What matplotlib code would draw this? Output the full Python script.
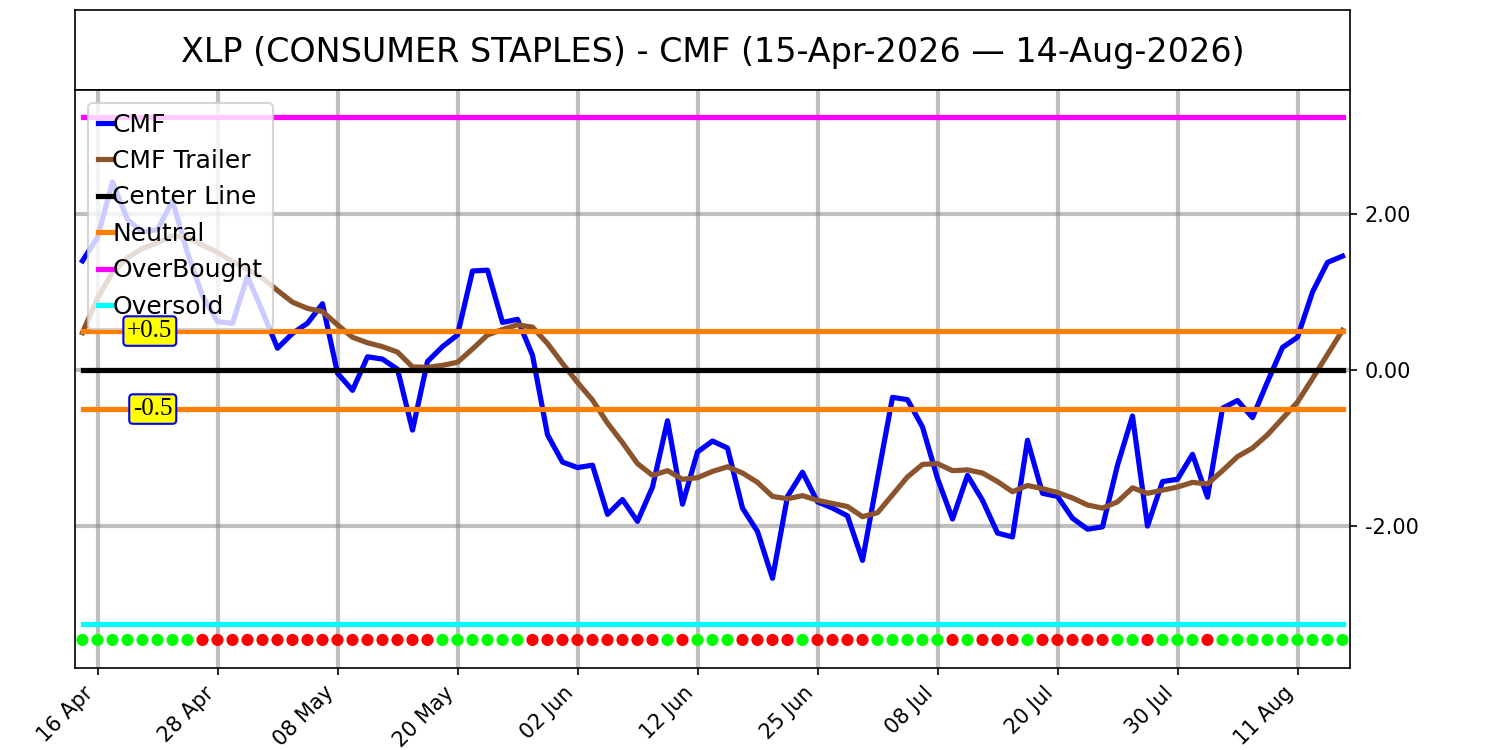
import numpy as np
import matplotlib
matplotlib.use("Agg")
import matplotlib.pyplot as plt

title = "XLP (CONSUMER STAPLES) - CMF (15-Apr-2026 \u2014 14-Aug-2026)"

cmf = [1.40, 1.70, 2.41, 1.93, 1.77, 1.80, 2.17, 1.50, 0.95, 0.62,
       0.60, 1.20, 0.75, 0.28, 0.47, 0.60, 0.85, -0.04, -0.26, 0.17,
       0.14, 0.01, -0.77, 0.11, 0.30, 0.45, 1.27, 1.28, 0.61, 0.65,
       0.19, -0.83, -1.18, -1.25, -1.22, -1.85, -1.66, -1.94, -1.50, -0.65,
       -1.72, -1.05, -0.91, -1.00, -1.77, -2.07, -2.67, -1.62, -1.31, -1.69,
       -1.77, -1.87, -2.44, -1.39, -0.35, -0.38, -0.73, -1.39, -1.91, -1.35,
       -1.67, -2.09, -2.14, -0.90, -1.58, -1.62, -1.90, -2.04, -2.01, -1.22,
       -0.59, -2.00, -1.43, -1.40, -1.08, -1.63, -0.49, -0.39, -0.61, -0.15,
       0.29, 0.42, 1.00, 1.38, 1.46]

trailer = [0.48, 0.92, 1.25, 1.44, 1.56, 1.63, 1.72, 1.70, 1.60, 1.51,
           1.39, 1.29, 1.18, 1.02, 0.87, 0.79, 0.75, 0.58, 0.42, 0.35,
           0.30, 0.23, 0.04, 0.035, 0.06, 0.10, 0.27, 0.45, 0.52, 0.58,
           0.55, 0.34, 0.085, -0.16, -0.385, -0.68, -0.93, -1.20, -1.35, -1.29,
           -1.40, -1.38, -1.30, -1.24, -1.32, -1.44, -1.62, -1.65, -1.61, -1.67,
           -1.71, -1.75, -1.88, -1.83, -1.60, -1.37, -1.21, -1.20, -1.29, -1.28,
           -1.32, -1.43, -1.56, -1.48, -1.52, -1.57, -1.64, -1.73, -1.77, -1.69,
           -1.51, -1.58, -1.54, -1.50, -1.44, -1.46, -1.29, -1.11, -1.00, -0.83,
           -0.62, -0.41, -0.11, 0.20, 0.51]

# G = cmf above trailer signal, R = below
signal = ("GGGGGGGG" "RRRRRRRRRRRRRRRR" "GGGGGG" "RRRRRRRRR" "G" "R" "GGG"
          "RRRR" "G" "RRRR" "GGGGG" "R" "G" "RRR" "G" "RRRRR" "GG" "R" "GGG"
          "R" "GGGGGGGGG")

tick_idx = [1, 9, 17, 25, 33, 41, 49, 57, 65, 73, 81]
tick_labels = ["16 Apr", "28 Apr", "08 May", "20 May", "02 Jun", "12 Jun",
               "25 Jun", "08 Jul", "20 Jul", "30 Jul", "11 Aug"]

overbought = 3.25
oversold = -3.25
neutral = 0.5
dot_level = -3.46

x = np.arange(len(cmf))
flat = np.ones(len(cmf))

fig = plt.figure(figsize=(10, 5), dpi=150)

# title box
tax = fig.add_axes([0.05, 0.88, 0.85, 0.1067])
tax.set_xticks([])
tax.set_yticks([])
tax.text(0.5, 0.47, title, ha='center', va='center', fontsize=16,
         transform=tax.transAxes)

ax = fig.add_axes([0.05, 0.1093, 0.85, 0.7707])
lw = 2.5
ax.plot(x, cmf, color='blue', lw=lw, label='CMF', zorder=3)
ax.plot(x, trailer, color='#8B542C', lw=lw, label='CMF Trailer', zorder=3)
ax.plot(x, 0 * flat, color='black', lw=lw, label='Center Line', zorder=4)
ax.plot(x, neutral * flat, color='#FF8000', lw=lw, label='Neutral', zorder=4)
ax.plot(x, -neutral * flat, color='#FF8000', lw=lw, zorder=4)
ax.plot(x, overbought * flat, color='magenta', lw=lw, label='OverBought', zorder=4)
ax.plot(x, oversold * flat, color='cyan', lw=lw, label='Oversold', zorder=4)

cols = ['#00FF00' if s == 'G' else '#FF0000' for s in signal]
ax.scatter(x, dot_level * flat, c=cols, s=34, zorder=5, linewidths=0)

box = dict(boxstyle='round,pad=0.15', fc='yellow', ec='blue', lw=1)
ax.text(6, neutral, '+0.5', ha='right', va='center', fontsize=12,
        family='Liberation Serif', bbox=box, zorder=6)
ax.text(6, -neutral, '-0.5', ha='right', va='center', fontsize=12,
        family='Liberation Serif', bbox=box, zorder=6)

ax.set_xlim(-0.5, 84.5)
ax.set_ylim(-3.82, 3.59)
ax.set_xticks(tick_idx)
ax.set_xticklabels(tick_labels, rotation=45, ha='right')
ax.set_yticks([-2, 0, 2])
ax.yaxis.set_major_formatter(matplotlib.ticker.FormatStrFormatter('%.2f'))
ax.yaxis.tick_right()
ax.grid(True, color='gray', alpha=0.5, lw=2, zorder=0)
ax.set_axisbelow(True)

ax.legend(loc='upper left', fontsize=12, handlelength=0.6,
          handletextpad=0.0, labelspacing=0.5)

fig.savefig('out.png')
